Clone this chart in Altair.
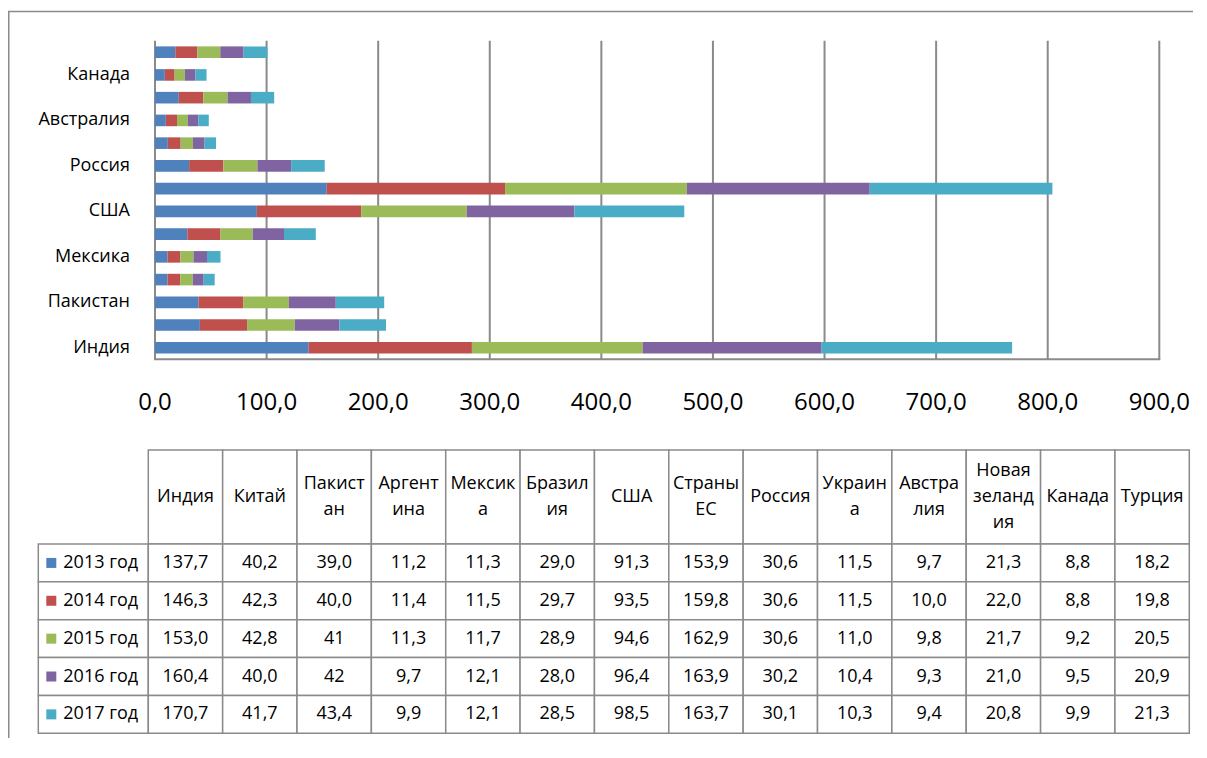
import altair as alt
import pandas as pd

# ---------------- data ----------------
countries = ["Индия", "Китай", "Пакистан", "Аргентина", "Мексика", "Бразилия", "США",
             "Страны ЕС", "Россия", "Украина", "Австралия", "Новая зеландия", "Канада", "Турция"]
header_labels = ["Индия", "Китай", "Пакист\nан", "Аргент\nина", "Мексик\nа", "Бразил\nия", "США",
                 "Страны\nЕС", "Россия", "Украин\nа", "Австра\nлия", "Новая\nзеланд\nия", "Канада", "Турция"]
years = ["2013 год", "2014 год", "2015 год", "2016 год", "2017 год"]

v2013 = [137.7, 40.2, 39.0, 11.2, 11.3, 29.0, 91.3, 153.9, 30.6, 11.5, 9.7, 21.3, 8.8, 18.2]
v2014 = [146.3, 42.3, 40.0, 11.4, 11.5, 29.7, 93.5, 159.8, 30.6, 11.5, 10.0, 22.0, 8.8, 19.8]
v2015 = [153.0, 42.8, 41, 11.3, 11.7, 28.9, 94.6, 162.9, 30.6, 11.0, 9.8, 21.7, 9.2, 20.5]
v2016 = [160.4, 40.0, 42, 9.7, 12.1, 28.0, 96.4, 163.9, 30.2, 10.4, 9.3, 21.0, 9.5, 20.9]
v2017 = [170.7, 41.7, 43.4, 9.9, 12.1, 28.5, 98.5, 163.7, 30.1, 10.3, 9.4, 20.8, 9.9, 21.3]
series = [v2013, v2014, v2015, v2016, v2017]

colors = ["#4F81BD", "#C0504D", "#9BBB59", "#8064A2", "#4BACC6"]

x_ticks = [0, 100, 200, 300, 400, 500, 600, 700, 800, 900]
x_tick_labels = ["0,0", "100,0", "200,0", "300,0", "400,0", "500,0", "600,0", "700,0", "800,0", "900,0"]
y_labels_shown = ["Индия", "Пакистан", "Мексика", "США", "Россия", "Австралия", "Канада"]

bar_order = list(reversed(countries))  # top to bottom


def fmt(v):
    if isinstance(v, int):
        return str(v)
    return f"{v:.1f}".replace(".", ",")


rows = []
for yi, (yr, vals) in enumerate(zip(years, series)):
    for c, v in zip(countries, vals):
        rows.append({"country": c, "year": yr, "yi": yi, "value": float(v), "label": fmt(v)})
df = pd.DataFrame(rows)

tick_df = pd.DataFrame({"t": x_ticks, "lab": x_tick_labels})
ylab_df = pd.DataFrame({"country": y_labels_shown})
head_df = pd.DataFrame({"country": countries, "head": header_labels,
                        "n": [h.count("\n") + 1 for h in header_labels]})
year_df = pd.DataFrame({"year": years})
one = alt.Data(values=[{"a": 1}])

# ---------------- style ----------------
FONT = "Open Sans"
GRID = "#8a8a8a"
LINE_H = 26
xs = alt.Scale(domain=[0, 900], range=[147, 1151.3], nice=False, zero=False)
ys = alt.Scale(domain=bar_order, range=[32.7, 351.3], paddingInner=0.49, paddingOuter=0.25)
cs = alt.Scale(domain=years, range=colors)
col_s = alt.Scale(domain=countries, range=[140.3, 1181.3], paddingInner=0, paddingOuter=0)
row_s = alt.Scale(domain=years, range=[536, 725.3], paddingInner=0, paddingOuter=0)

# frame lines
frame_left = alt.Chart(one).mark_rule(color=GRID, strokeWidth=1.5).encode(
    x=alt.value(0.75), y=alt.value(3.5), y2=alt.value(742))
frame_top = alt.Chart(one).mark_rule(color=GRID, strokeWidth=1.5).encode(
    x=alt.value(0), x2=alt.value(1185), y=alt.value(3.5))

grid = alt.Chart(tick_df).mark_rule(color=GRID, strokeWidth=2).encode(
    x=alt.X("t:Q", scale=xs, axis=None),
    y=alt.value(32.7), y2=alt.value(351.3))

base_line = alt.Chart(one).mark_rule(color=GRID, strokeWidth=2).encode(
    x=alt.value(146), x2=alt.value(1152.3), y=alt.value(351.3))

bars = alt.Chart(df).mark_bar().encode(
    x=alt.X("value:Q", stack="zero", scale=xs, axis=None),
    y=alt.Y("country:N", scale=ys, sort=bar_order, axis=None),
    color=alt.Color("year:N", scale=cs, legend=None),
    order=alt.Order("yi:Q", sort="ascending"),
)

tick_labels = alt.Chart(tick_df).mark_text(font=FONT, fontSize=24, baseline="alphabetic",
                                           color="black").encode(
    x=alt.X("t:Q", scale=xs, axis=None), y=alt.value(402), text="lab:N")

y_labels = alt.Chart(ylab_df).mark_text(font=FONT, fontSize=18, align="right", baseline="middle",
                                        color="black").encode(
    x=alt.value(122), y=alt.Y("country:N", scale=ys, axis=None), text="country:N")

# ---------------- table ----------------
head_cells = alt.Chart(head_df).mark_rect(fill="white", stroke=GRID, strokeWidth=1.5).encode(
    x=alt.X("country:N", scale=col_s, axis=None), y=alt.value(442), y2=alt.value(536))


def head_text_layer(n):
    return alt.Chart(head_df).transform_filter(alt.datum.n == n).mark_text(
        font=FONT, fontSize=18, lineBreak="\n", lineHeight=LINE_H,
        baseline="middle", color="black").encode(
        x=alt.X("country:N", scale=col_s, axis=None),
        y=alt.value(489 - (n - 1) * LINE_H / 2), text="head:N")


head_text = [head_text_layer(n) for n in (1, 2, 3)]

legend_cells = alt.Chart(year_df).mark_rect(fill="white", stroke=GRID, strokeWidth=1.5).encode(
    x=alt.value(30.3), x2=alt.value(140.3), y=alt.Y("year:N", scale=row_s, axis=None))
legend_sq = alt.Chart(year_df).mark_square(size=100, opacity=1).encode(
    x=alt.value(43.3), y=alt.Y("year:N", scale=row_s, axis=None),
    color=alt.Color("year:N", scale=cs, legend=None))
legend_text = alt.Chart(year_df).mark_text(font=FONT, fontSize=18, align="left", baseline="middle",
                                           color="black").encode(
    x=alt.value(55.3), y=alt.Y("year:N", scale=row_s, axis=None), text="year:N")

cells = alt.Chart(df).mark_rect(fill="white", stroke=GRID, strokeWidth=1.5).encode(
    x=alt.X("country:N", scale=col_s, axis=None), y=alt.Y("year:N", scale=row_s, axis=None))
cell_text = alt.Chart(df).mark_text(font=FONT, fontSize=18, baseline="middle", color="black").encode(
    x=alt.X("country:N", scale=col_s, axis=None), y=alt.Y("year:N", scale=row_s, axis=None),
    text="label:N")

chart = alt.layer(
    frame_left, frame_top, grid, base_line, bars, tick_labels, y_labels,
    head_cells, legend_cells, legend_sq, legend_text, cells, cell_text, *head_text,
).resolve_scale(x="independent", y="independent").properties(
    width=1185, height=730, padding=0,
    autosize=alt.AutoSizeParams(type="none"),
).configure_view(stroke=None)

chart.save("out.html", embed_options={"renderer": "svg", "actions": False})
